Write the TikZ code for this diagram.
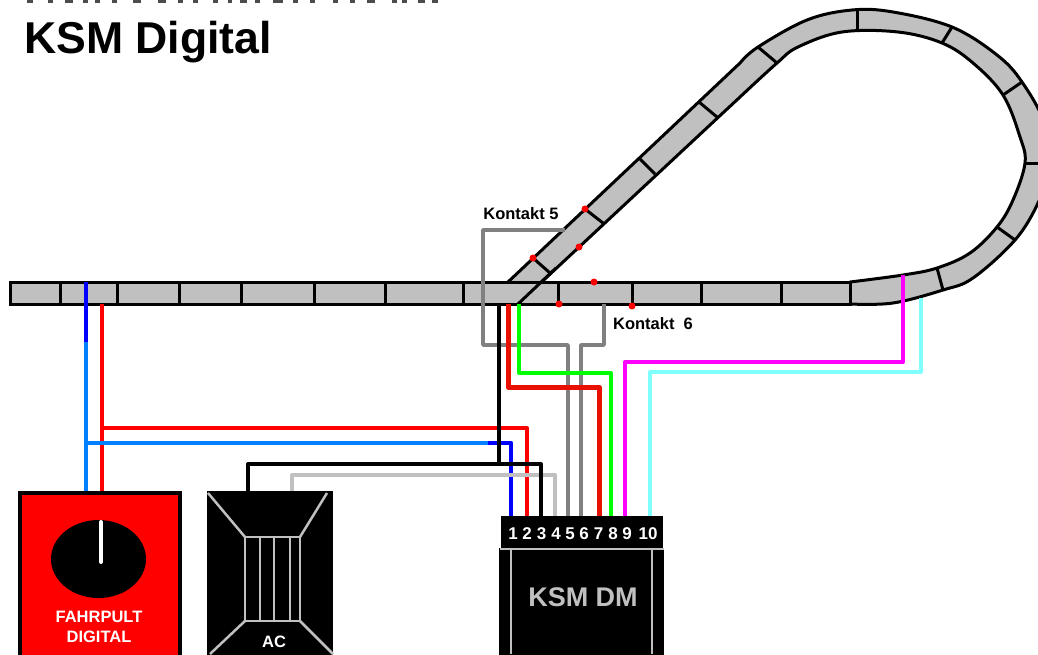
\documentclass[tikz,border=0pt]{standalone}
\usepackage{fontspec}
\setmainfont{Liberation Sans}
\usetikzlibrary{positioning}

\definecolor{railgray}{HTML}{C0C0C0}
\definecolor{wiregray}{HTML}{808080}
\definecolor{wireblue}{HTML}{0080FF}
\definecolor{wirecyan}{HTML}{80FFFF}
\definecolor{wirepink}{HTML}{FF00FF}
\definecolor{wiregreen}{HTML}{00FF00}
\definecolor{wiredark}{HTML}{E81000}

\tikzset{
  wire/.style={line width=4pt,line join=round},
  tie/.style={line width=3pt},
  contactdot/.style={circle,fill=red,inner sep=0pt,minimum size=7pt},
  kontakt/.style={font=\fontsize{16.5}{18}\selectfont\bfseries,inner sep=0pt},
  pinlabel/.style={font=\fontsize{17}{18}\selectfont\bfseries,text=white,inner sep=0pt},
  boxlabel/.style={font=\fontsize{16.5}{18}\selectfont\bfseries,text=white,inner sep=0pt},
}

\begin{document}
\begin{tikzpicture}[x=1pt,y=-1pt]
  \useasboundingbox (0,0) rectangle (1038,654);
  \clip (0,0) rectangle (1038,654);

  % cut off heading line
  \foreach \a/\b in {27/33,48/53,65/73,83/88,95/100,112/117,133/141,158/166,178/183,193/198,213/218,228/232,240/247,255/260,273/283,293/298,310/315,333/338,350/355,367/375,392/397,402/407,418/425,432/438}
    \fill[black!70] (\a,0) rectangle (\b,3);

  \node[font=\fontsize{44.6}{48}\selectfont\bfseries,anchor=base west,inner sep=0pt] (title) at (24,53) {KSM Digital};

  % track
  \draw[line width=3pt,fill=railgray,line join=round] (508,282) -- (740,63)
    -- plot[smooth,tension=0.6] coordinates {(740,63) (758,47) (807,20) (852,10) (893,12) (952,27) (997,55) (1022,82) (1045,125) (1048,170) (1038,203) (1015,240) (973,278) (943,290) (893,303) (850,304)}
    -- plot[smooth,tension=0.6] coordinates {(850,282) (903,275) (937,268) (970,253) (997,227) (1013,200) (1025,163) (1020,137) (1003,95) (973,63) (942,43) (898,32) (842,32) (798,47) (777,63) (740,97)}
    -- (518,304) -- cycle;
  \draw[line width=3pt,fill=railgray] (10,282) rectangle (850,304);
  \draw[line width=3pt] (518,304) -- (556,268);
  \foreach \x in {60,117,179,241,314,385,463,558,632,701,781}
    \draw[tie] (\x,282) -- (\x,304);
  \foreach \a/\b/\c/\d in {533/258/550/273,585/209/603/223,639/158/655/174,699/102/717/117,758/47/777/63,857/10/857/32,952/27/942/43,1022/82/1003/95,1038/163/1025/163,1015/240/997/227,943/290/937/268}
    \draw[tie] (\a,\b) -- (\c,\d);

  % devices
  \node[draw,fill=red,line width=4pt,inner sep=0pt,minimum width=160pt,minimum height=200pt,anchor=north west] (fahrpult) at (18,491) {};
  \fill (98.5,559) ellipse[x radius=47.5,y radius=39];
  \draw[white,line width=4pt,line cap=round] (101,522) -- (101,562);
  \node[boxlabel] (fahrpultlabel) at (99,617) {FAHRPULT};
  \node[boxlabel] (digitallabel) at (99,637) {DIGITAL};

  \node[fill=black,inner sep=0pt,minimum width=126pt,minimum height=200pt,anchor=north west] (acbox) at (207,491) {};
  \begin{scope}[railgray,line width=2.5pt]
    \draw (245,537) rectangle (300,621);
    \foreach \x in {260,274,290} \draw (\x,537) -- (\x,621);
    \draw (208,493) -- (245,537) (327,493) -- (300,537);
    \draw (245,621) -- (210,654) (300,621) -- (333,654);
  \end{scope}
  \node[boxlabel] (aclabel) at (274,642) {AC};

  \node[fill=black,inner sep=0pt,minimum width=165pt,minimum height=110pt,anchor=north west] (ksmbox) at (499,548) {};
  \node[fill=black,inner sep=0pt,minimum width=162pt,minimum height=33pt,anchor=north west] (ksmhead) at (501,516) {};
  \draw[railgray,line width=2pt] (500,549) -- (664,549) (511,549) -- (511,654) (652,549) -- (652,654);
  \node[font=\fontsize{27}{30}\selectfont\bfseries,text=railgray,inner sep=0pt] (ksmlabel) at (583,597) {KSM DM};
  \foreach \n/\x/\w in {1/513/511,2/527/527,3/541.5/541,4/556/555,5/570/568,6/584/581,7/598.5/599,8/613/611,9/627/625,10/648/650} {
    \node[pinlabel] (pin\n) at (\x,534) {\n};
    \coordinate (wire\n) at (\w,516);
  }

  % contacts on the track
  \coordinate (railblue) at (86,282);
  \coordinate (railbluejoin) at (86,342);
  \coordinate (railred) at (102,304);
  \coordinate (fahrblue) at (86,491);
  \coordinate (fahrred) at (102,491);
  \coordinate (acblack) at (248,491);
  \coordinate (acgray) at (292,491);
  \coordinate (railblack) at (499,304);
  \coordinate (blackjoin) at (499,464);
  \coordinate (railredtwo) at (508,304);
  \coordinate (railgreen) at (519,304);
  \coordinate (kontaktfive) at (565,230);
  \coordinate (kontaktsix) at (604,304);
  \coordinate (railmagenta) at (903,275);
  \coordinate (railcyan) at (921,298);

  % wires
  \draw[wire,wiregray,line width=3.5pt] (wire5) -- ++(0,-171) -| (483,230) -- (kontaktfive);
  \draw[wire,wiregray,line width=3.5pt] (wire6) -- ++(0,-171) -| (kontaktsix);
  \draw[wire,red] (wire2) |- (fahrred |- 0,428);
  \draw[wire,red] (fahrred) -- (railred);
  \draw[wire,wireblue] (wire1) |- (fahrblue |- 0,443);
  \draw[wire,blue] (wire1) |- (488,443);
  \draw[wire,wireblue] (fahrblue) -- (railbluejoin);
  \draw[wire,blue] (railbluejoin) -- (railblue);
  \draw[wire,railgray] (wire4) -- ++(0,-41) -| (acgray);
  \draw[wire] (wire3) -- ++(0,-52) -| (acblack);
  \draw[wire] (blackjoin) -- (railblack);
  \draw[wire,wiredark,line width=5pt] (wire7) -- ++(0,-129) -| (railredtwo);
  \draw[wire,wiregreen] (wire8) -- ++(0,-143) -| (railgreen);
  \draw[wire,wirepink] (wire9) -- ++(0,-154) -| (railmagenta);
  \draw[wire,wirecyan] (wire10) -- ++(0,-144) -| (railcyan);

  \foreach \x/\y [count=\i] in {585/209,579/247,533/258,594/282,559/304,632/306}
    \node[contactdot] (dot\i) at (\x,\y) {};

  \node[kontakt] (labelfive) at (521,214) {Kontakt 5};
  \node[kontakt] (labelsix) at (653,324) {Kontakt\ \ 6};
\end{tikzpicture}
\end{document}
